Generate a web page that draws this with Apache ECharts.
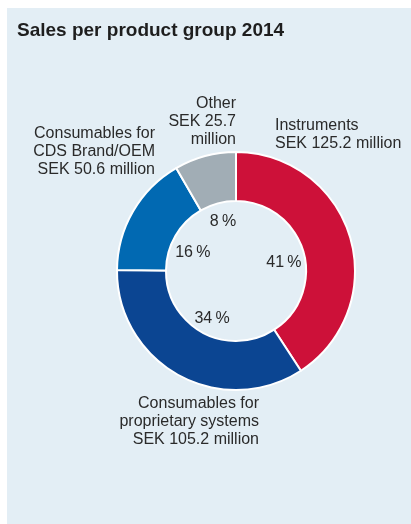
<!DOCTYPE html>
<html>
<head>
<meta charset="utf-8">
<script src="https://cdn.jsdelivr.net/npm/echarts@6/dist/echarts.min.js"></script>
<style>
  html, body { margin: 0; padding: 0; background: #fff; }
  #chart { width: 411px; height: 524px; }
</style>
</head>
<body>
<div id="chart"></div>
<script>
// sales per product group, SEK million (clockwise from 12 o'clock)
const groups = ['Instruments', 'Consumables for proprietary systems', 'Consumables for CDS Brand/OEM', 'Other'];
const salesMSEK = [125.2, 105.2, 50.6, 25.7];
const shareLabels = ['41\u2009%', '34\u2009%', '16\u2009%', '8\u2009%'];
const groupLabels = [
  'Instruments\nSEK 125.2 million',
  'Consumables for\nproprietary systems\nSEK 105.2 million',
  'Consumables for\nCDS Brand/OEM\nSEK 50.6 million',
  'Other\nSEK 25.7\nmillion',
];
const colors = ['#cd1139', '#0b4592', '#0169b2', '#a1adb5'];

const font = '"Liberation Sans", Arial, Helvetica, sans-serif';
const textColor = '#2a2a2a';

const chart = echarts.init(document.getElementById('chart'));

// where the outside labels sit (designer placed, not radial)
const outerPos = [
  { x: 275, y: 117, align: 'left' },
  { x: 259, y: 395, align: 'right' },
  { x: 155, y: 125, align: 'right' },
  { x: 236, y: 95, align: 'right' },
];
const innerShift = [6, 4, 6.5, -1];

const pieData = groups.map((name, i) => ({ name, value: salesMSEK[i] }));

chart.setOption({
  animation: false,
  graphic: [
    {
      type: 'rect',
      z: -10,
      silent: true,
      shape: { x: 7, y: 8, width: 404, height: 516 },
      style: { fill: '#e3eef5' },
    },
  ],
  title: {
    text: 'Sales per product group 2014',
    left: 17,
    top: 21,
    padding: 0,
    textStyle: { fontFamily: font, fontSize: 19, fontWeight: 'bold', color: '#1e1e1e' },
  },
  color: colors,
  series: [
    {
      type: 'pie',
      center: [236, 271],
      radius: [70, 119],
      startAngle: 90,
      clockwise: true,
      avoidLabelOverlap: false,
      silent: true,
      itemStyle: { borderColor: '#fff', borderWidth: 2 },
      label: {
        show: true,
        position: 'outside',
        formatter: (p) => groupLabels[p.dataIndex],
        fontFamily: font,
        fontSize: 16,
        lineHeight: 18,
        color: textColor,
      },
      labelLine: { show: false },
      labelLayout: (p) => ({
        x: outerPos[p.dataIndex].x,
        y: outerPos[p.dataIndex].y,
        align: outerPos[p.dataIndex].align,
        verticalAlign: 'top',
      }),
      data: pieData,
    },
    {
      type: 'pie',
      center: [236, 271],
      radius: [0, 94],
      startAngle: 90,
      clockwise: true,
      silent: true,
      itemStyle: { color: 'transparent' },
      label: {
        show: true,
        position: 'inside',
        formatter: (p) => shareLabels[p.dataIndex],
        fontFamily: font,
        fontSize: 16,
        color: textColor,
      },
      labelLine: { show: false },
      labelLayout: (p) => ({ dy: innerShift[p.dataIndex] }),
      data: pieData,
    },
  ],
});
</script>
</body>
</html>
